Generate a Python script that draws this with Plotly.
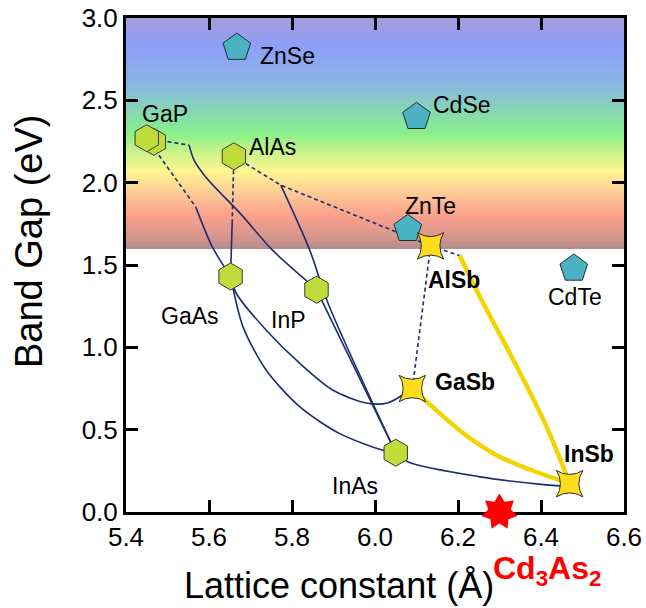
import numpy as np
import plotly.graph_objects as go

# ---- axes -------------------------------------------------------------
X_RANGE = [5.4, 6.6]
Y_RANGE = [0.0, 3.0]

# ---- compounds ----------------------------------------------------------
# III-V zinc-blende (hexagons); the first entry sits just behind GaP
iii_v_names = ["", "GaP", "AlAs", "GaAs", "InP", "InAs"]
iii_v_a = [5.467, 5.45, 5.66, 5.652, 5.859, 6.05]
iii_v_eg = [2.248, 2.27, 2.16, 1.43, 1.35, 0.36]

# II-VI (pentagons)
ii_vi_names = ["ZnSe", "CdSe", "ZnTe", "CdTe"]
ii_vi_a = [5.667, 6.10, 6.079, 6.479]
ii_vi_eg = [2.82, 2.40, 1.72, 1.479]

# antimonides (four-point stars)
sb_names = ["AlSb", "GaSb", "InSb"]
sb_a = [6.134, 6.09, 6.469]
sb_eg = [1.616, 0.75, 0.172]

# Dirac semimetal
cd3as2_a = 6.30
cd3as2_eg = 0.0

# ---- alloy curves: (lattice constant, band gap) -------------------------
gap_inp_dash = ([5.45, 5.552], [2.27, 2.228])
gap_inp = ([5.552, 5.564, 5.592, 5.68, 5.753, 5.86], [2.228, 2.137, 2.035, 1.80, 1.59, 1.35])
gap_gaas_dash = ([5.45, 5.568], [2.27, 1.853])
gap_gaas = ([5.568, 5.608, 5.652], [1.853, 1.61, 1.43])
alas_gaas_dash = ([5.66, 5.656], [2.16, 1.772])
alas_gaas = ([5.656, 5.652], [1.772, 1.43])
alas_alsb_dash = ([5.66, 5.773, 6.134], [2.16, 1.985, 1.616])
alas_inas = ([5.773, 5.843, 5.887, 6.05], [1.985, 1.589, 1.266, 0.36])
inp_inas = ([5.859, 6.05], [1.35, 0.36])
gaas_inas = ([5.652, 5.682, 5.738, 5.819, 5.915, 6.019, 6.05],
             [1.43, 1.124, 0.861, 0.638, 0.476, 0.375, 0.36])
gaas_gasb = ([5.652, 5.666, 5.738, 5.819, 5.899, 5.979, 6.03, 6.09],
             [1.43, 1.327, 1.104, 0.902, 0.739, 0.662, 0.662, 0.75])
inas_insb = ([6.05, 6.08, 6.25, 6.40, 6.469], [0.36, 0.304, 0.215, 0.168, 0.155])
alsb_gasb_dash = ([6.134, 6.09], [1.616, 0.75])
alsb_insb_dash = ([6.134, 6.204], [1.616, 1.558])
alsb_insb = ([6.204, 6.252, 6.333, 6.413, 6.469], [1.558, 1.31, 0.925, 0.52, 0.172])
gasb_insb = ([6.09, 6.12, 6.212, 6.293, 6.373, 6.469], [0.75, 0.68, 0.48, 0.345, 0.258, 0.172])

# visible-light band
band_bottom, band_top = 1.6, 3.0
band_levels = [1.60, 1.68, 1.80, 1.94, 2.07, 2.19, 2.30, 2.46, 2.63, 2.82, 3.00]
band_colors = ["#b48c8c", "#d8968c", "#f9a08c", "#fdcb96", "#fff690", "#c8f48c",
               "#88f08a", "#86d2bc", "#8ab2e6", "#8ca0f8", "#a29cdc"]

# ---- styles -------------------------------------------------------------
FONT = "Liberation Sans, Arial, Helvetica, sans-serif"
NAVY = "#1e2d6e"
GOLD = "#f3d400"
HEX_FILL = "#c0dc3a"
PENT_FILL = "#4bb2c4"
STAR_FILL = "#ffdd1a"

fig = go.Figure()

# rainbow band of visible photon energies
edges = np.linspace(band_bottom, band_top, 141)
mids = 0.5 * (edges[:-1] + edges[1:])
scale = [[(v - band_bottom) / (band_top - band_bottom), c] for v, c in zip(band_levels, band_colors)]
fig.add_trace(go.Heatmap(
    x=[X_RANGE[0], X_RANGE[1]], y=edges, z=[[m] for m in mids],
    colorscale=scale, zmin=band_bottom, zmax=band_top,
    showscale=False, hoverinfo="skip"))


def curve(xy, color=NAVY, width=1.6, dash=None, shape="spline", smoothing=0.8):
    fig.add_trace(go.Scatter(
        x=xy[0], y=xy[1], mode="lines",
        line=dict(color=color, width=width, dash=dash, shape=shape, smoothing=smoothing),
        hoverinfo="skip", showlegend=False))


DASH = "4px,3px"
for seg in [gap_inp_dash, gap_gaas_dash, alas_gaas_dash, alas_alsb_dash,
            alsb_gasb_dash, alsb_insb_dash]:
    curve(seg, dash=DASH, shape="linear")
for seg in [gap_inp, gap_gaas, alas_gaas, alas_inas, gaas_inas, gaas_gasb, inas_insb]:
    curve(seg)
curve(inp_inas, shape="linear")
curve(alsb_insb, color=GOLD, width=4.5, smoothing=1.0)
curve(gasb_insb, color=GOLD, width=4.5, smoothing=1.0)

# markers
fig.add_trace(go.Scatter(
    x=iii_v_a, y=iii_v_eg, mode="markers", cliponaxis=False,
    marker=dict(symbol="hexagon", size=27, color=HEX_FILL, line=dict(color="#3a3a3a", width=1)),
    hoverinfo="skip", showlegend=False))
fig.add_trace(go.Scatter(
    x=ii_vi_a, y=ii_vi_eg, mode="markers", cliponaxis=False,
    marker=dict(symbol="pentagon", size=29, color=PENT_FILL, line=dict(color="#2a2a2a", width=1)),
    hoverinfo="skip", showlegend=False))
fig.add_trace(go.Scatter(
    x=sb_a, y=sb_eg, mode="markers", cliponaxis=False,
    marker=dict(symbol="star-square", size=24, color=STAR_FILL, line=dict(color="#2a2a2a", width=1)),
    hoverinfo="skip", showlegend=False))

# seven-point star for Cd3As2 (drawn unclipped, over the axis line)
R_OUT, R_IN = 18.5, 11.5
pts = []
for k in range(14):
    ang = np.pi / 2 + k * np.pi / 7
    r = R_OUT if k % 2 == 0 else R_IN
    pts.append((r * np.cos(ang), r * np.sin(ang)))
star_path = "M" + " L".join(f"{px:.2f},{py:.2f}" for px, py in pts) + " Z"
fig.add_shape(
    type="path", path=star_path, xref="paper", yref="paper",
    xsizemode="pixel", ysizemode="pixel",
    xanchor=(cd3as2_a - X_RANGE[0]) / (X_RANGE[1] - X_RANGE[0]),
    yanchor=(cd3as2_eg - Y_RANGE[0]) / (Y_RANGE[1] - Y_RANGE[0]),
    fillcolor="#ff0000", line=dict(width=0), layer="above")

# ---- labels (pixel offsets from each marker) ---------------------------
label_offsets = {
    "GaP": (18, 24, "center"), "AlAs": (13, 9, "left"), "GaAs": (-41, -39, "center"),
    "InP": (-28, -30, "center"), "InAs": (-41, -33, "center"),
    "ZnSe": (21, -8, "left"), "CdSe": (14, 12, "left"), "ZnTe": (23, 23, "center"),
    "CdTe": (1, -29, "center"),
    "AlSb": (23, -34, "center"), "GaSb": (21, 7, "left"), "InSb": (19, 30, "center"),
}
for names, xs, ys, bold in [(iii_v_names, iii_v_a, iii_v_eg, False),
                            (ii_vi_names, ii_vi_a, ii_vi_eg, False),
                            (sb_names, sb_a, sb_eg, True)]:
    for n, x, y in zip(names, xs, ys):
        if not n:
            continue
        dx, dy, anchor = label_offsets[n]
        fig.add_annotation(
            x=x, y=y, text=f"<b>{n}</b>" if bold else n, showarrow=False,
            xshift=dx, yshift=dy, xanchor=anchor, yanchor="middle",
            font=dict(family=FONT, size=23, color="black"))

fig.add_annotation(
    x=cd3as2_a, y=cd3as2_eg, text="<b>Cd<sub>3</sub>As<sub>2</sub></b>", showarrow=False,
    xshift=47, yshift=-58, xanchor="center", yanchor="middle",
    font=dict(family=FONT, size=32, color="#ff0000"))

# axis titles
fig.add_annotation(
    x=(339 - 126) / 498, y=0, xref="paper", yref="paper", text="Lattice constant (Å)",
    showarrow=False, xanchor="center", yanchor="middle", yshift=-73,
    font=dict(family=FONT, size=36, color="black"))
fig.add_annotation(
    x=0, y=(512 - 242) / 494, xref="paper", yref="paper", text="Band Gap (eV)", textangle=-90,
    showarrow=False, xanchor="center", yanchor="middle", xshift=-97,
    font=dict(family=FONT, size=38, color="black"))

axis_common = dict(
    showline=True, linewidth=3, linecolor="black", mirror="ticks",
    ticks="inside", ticklen=12, tickwidth=3, tickcolor="black",
    showgrid=False, zeroline=False, tickformat=".1f", automargin=False,
    tickfont=dict(family=FONT, size=26, color="black"))

fig.update_layout(
    width=646, height=608,
    margin=dict(l=126, r=22, t=18, b=96, autoexpand=False),
    paper_bgcolor="white", plot_bgcolor="white",
    showlegend=False,
    xaxis=dict(range=X_RANGE, dtick=0.2, tick0=5.4, **axis_common),
    yaxis=dict(range=Y_RANGE, dtick=0.5, tick0=0, **axis_common),
)

fig.write_html("out.html")
